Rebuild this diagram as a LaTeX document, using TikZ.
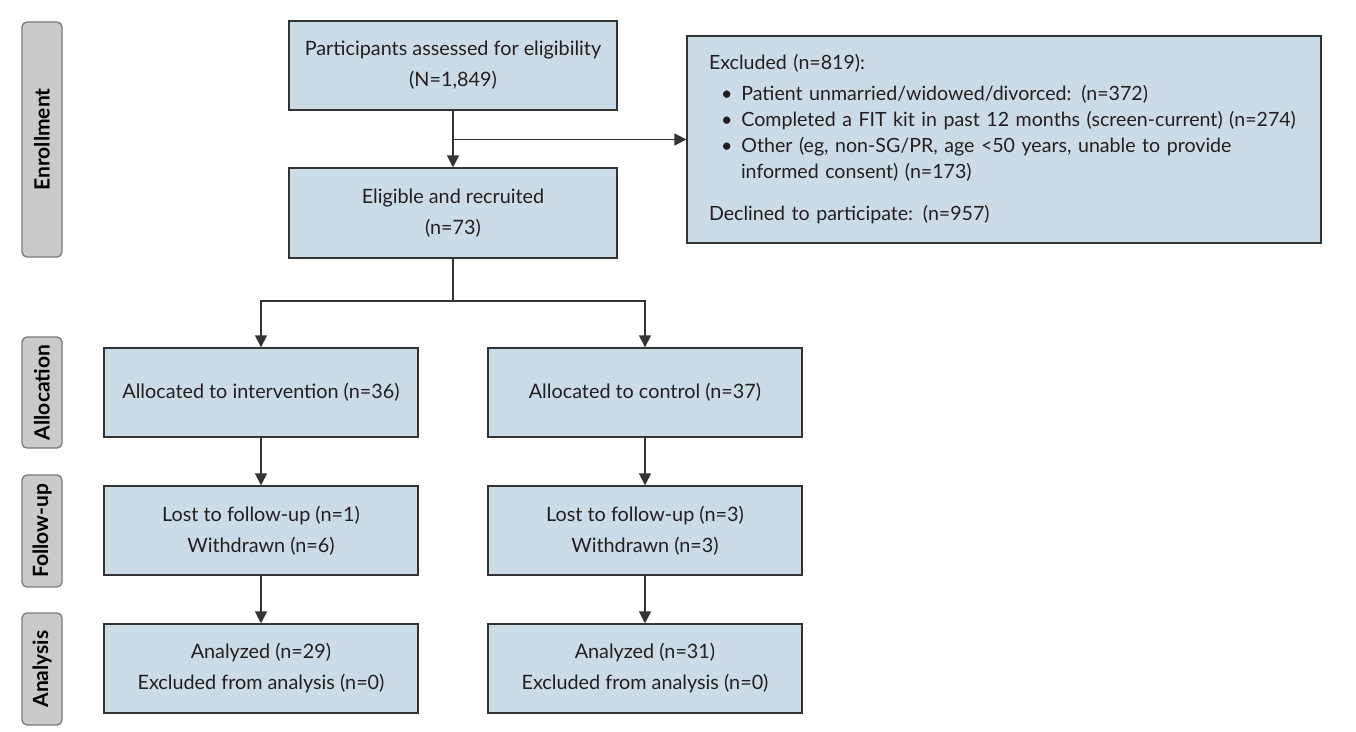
\documentclass[tikz,border=0pt]{standalone}
\usepackage{fontspec}
\setmainfont{Lato}
\usetikzlibrary{arrows.meta}
\definecolor{boxfill}{HTML}{CCDCE6}
\definecolor{boxline}{HTML}{333333}
\definecolor{sidefill}{HTML}{CACACA}
\definecolor{sideline}{HTML}{7A7A7A}
\definecolor{txt}{HTML}{231F20}
\begin{document}
\begin{tikzpicture}[x=1pt,y=-1pt,
  every node/.style={text=txt},
  box/.style={draw=boxline, line width=1.3pt, fill=boxfill, inner sep=0pt, align=center,
    font=\fontsize{19.8}{31}\selectfont, minimum width=314pt, minimum height=89pt},
  side/.style={draw=sideline, line width=1.3pt, fill=sidefill, rounded corners=5pt,
    minimum height=40pt, inner sep=0pt, rotate=90, text=black,
    font=\fontsize{21}{24}\selectfont\bfseries},
  conn/.style={draw=boxline, line width=1.3pt},
  arr/.style={conn, -{Triangle[length=12pt,width=12pt]}}
]
\useasboundingbox (0,0) rectangle (1356,731);

% side labels
\node[side, minimum width=235pt] (s1) at (42,139.5) {Enrollment};
\node[side, minimum width=111pt] (s2) at (42,392.5) {Allocation};
\node[side, minimum width=112pt] (s3) at (42,531) {Follow-up};
\node[side, minimum width=112pt] (s4) at (42,669) {Analysis};

% enrollment
\node[box, minimum width=328pt] (assess) at (453,65.5) {Participants assessed for eligibility\\(N=1,849)};
\node[box, minimum width=328pt, minimum height=90pt] (elig) at (453,213) {Eligible and recruited\\(n=73)};
\node[box, minimum width=634pt, minimum height=207pt, align=left, text width=590pt,
  font=\fontsize{19.6}{26}\selectfont] (excl) at (1004,139.5) {%
  Excluded (n=819):\\[5pt]
  \hspace*{12pt}\textbullet\hspace*{9pt}Patient unmarried/widowed/divorced: (n=372)\\
  \hspace*{12pt}\textbullet\hspace*{9pt}Completed a FIT kit in past 12 months (screen-current) (n=274)\\
  \hspace*{12pt}\textbullet\hspace*{9pt}Other (eg, non-SG/PR, age <50 years, unable to provide\\
  \hspace*{32pt}informed consent) (n=173)\\[16pt]
  Declined to participate: (n=957)};

% allocation
\node[box] (ai) at (261,392.5) {Allocated to intervention (n=36)};
\node[box] (ac) at (645,392.5) {Allocated to control (n=37)};
% follow-up
\node[box] (fi) at (261,530.5) {Lost to follow-up (n=1)\\Withdrawn (n=6)};
\node[box] (fc) at (645,530.5) {Lost to follow-up (n=3)\\Withdrawn (n=3)};
% analysis
\node[box] (ni) at (261,668.5) {Analyzed (n=29)\\Excluded from analysis (n=0)};
\node[box] (nc) at (645,668.5) {Analyzed (n=31)\\Excluded from analysis (n=0)};

% connectors
\coordinate (split) at (453,139.5);
\coordinate (fork) at (453,301);
\draw[arr] (assess.south) -- (elig.north);
\draw[arr] (split) -- (excl.west);
\draw[conn] (elig.south) -- (fork);
\draw[arr] (fork) -| (ai.north);
\draw[arr] (fork) -| (ac.north);
\draw[arr] (ai) -- (fi);
\draw[arr] (ac) -- (fc);
\draw[arr] (fi) -- (ni);
\draw[arr] (fc) -- (nc);
\end{tikzpicture}
\end{document}
